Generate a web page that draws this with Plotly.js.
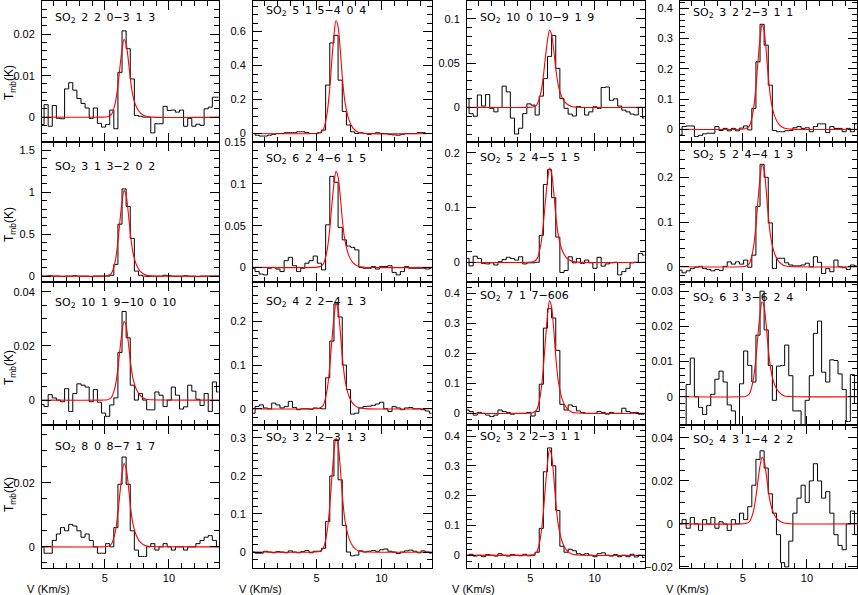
<!DOCTYPE html>
<html><head><meta charset="utf-8">
<script src="https://cdn.plot.ly/plotly-3.0.1.min.js"></script>
<style>html,body{margin:0;padding:0;background:#fff}#chart{width:858px;height:595px}</style>
</head><body><div id="chart"></div><script>
// channel velocities (km/s)
const velocity = [0.10, 0.42, 0.74, 1.06, 1.38, 1.70, 2.02, 2.34, 2.66, 2.98, 3.30, 3.62, 3.94, 4.26, 4.58, 4.90, 5.22, 5.54, 5.86, 6.18, 6.50, 6.82, 7.14, 7.46, 7.78, 8.10, 8.42, 8.74, 9.06, 9.38, 9.70, 10.02, 10.34, 10.66, 10.98, 11.30, 11.62, 11.94, 12.26, 12.58, 12.90, 13.22, 13.54, 13.86];

const lineLabels = [
  "SO<sub>2</sub> 2 2 0−3 1 3", "SO<sub>2</sub> 5 1 5−4 0 4", "SO<sub>2</sub> 10 0 10−9 1 9", "SO<sub>2</sub> 3 2 2−3 1 1",
  "SO<sub>2</sub> 3 1 3−2 0 2", "SO<sub>2</sub> 6 2 4−6 1 5", "SO<sub>2</sub> 5 2 4−5 1 5", "SO<sub>2</sub> 5 2 4−4 1 3",
  "SO<sub>2</sub> 10 1 9−10 0 10", "SO<sub>2</sub> 4 2 2−4 1 3", "SO<sub>2</sub> 7 1 7−606", "SO<sub>2</sub> 6 3 3−6 2 4",
  "SO<sub>2</sub> 8 0 8−7 1 7", "SO<sub>2</sub> 3 2 2−3 1 3", "SO<sub>2</sub> 3 2 2−3 1 1", "SO<sub>2</sub> 4 3 1−4 2 2"
];

// observed spectra, Tmb (K)
const spec1 = [-0.0018, 0.0030, -0.0022, 0.0028, -0.0003, -0.0004, 0.0068, 0.0083, 0.0065, 0.0045, 0.0033, 0.0022, -0.0003, 0.0022, -0.0015, -0.0024, -0.0018, 0.0017, -0.0028, 0.0108, 0.0208, 0.0165, 0.0092, 0.0004, 0.0002, 0.0000, 0.0000, -0.0038, -0.0016, -0.0016, 0.0026, 0.0016, 0.0017, 0.0012, 0.0017, -0.0022, -0.0003, -0.0022, -0.0017, -0.0020, 0.0020, 0.0024, 0.0048, 0.0048];
const spec2 = [0, -0.010, -0.015, -0.015, -0.010, -0.005, 0, 0, 0.005, 0.005, 0.005, 0.010, 0.010, 0.005, 0, 0, 0.004, 0.020, 0.285, 0.533, 0.578, 0.314, 0.130, 0.050, 0.010, 0, 0.005, 0, -0.005, 0, 0.005, 0, 0, -0.005, -0.008, -0.010, -0.005, 0, 0, 0, 0.005, 0.005, 0, 0];
const spec3 = [0.010, -0.007, -0.010, 0.014, 0.0015, 0.0145, -0.001, -0.005, 0.000, 0.024, 0.0175, -0.012, -0.030, -0.0235, -0.007, 0.004, 0.0026, -0.0086, 0.0127, 0.0325, 0.0575, 0.081, 0.044, 0.010, -0.001, -0.0075, -0.0097, 0.001, 0.000, -0.0086, -0.005, 0.0007, -0.001, 0.0224, 0.023, 0.008, 0.0097, 0.0015, -0.003, -0.005, -0.0075, -0.0085, 0.000, -0.012];
const spec4 = [-0.019, 0.009, 0.011, 0.011, -0.024, -0.020, -0.015, -0.013, -0.013, 0.009, -0.004, 0.003, -0.005, 0.003, -0.005, 0.004, 0.011, -0.002, 0.069, 0.223, 0.347, 0.278, 0.146, -0.004, -0.008, -0.008, -0.005, -0.004, 0.005, 0.009, 0.003, 0.005, -0.008, 0.009, 0.018, 0.018, -0.011, 0.009, 0.003, 0.003, -0.008, 0.003, -0.008, 0.018];
const spec5 = [0, 0, 0.005, 0, 0, -0.005, 0, 0, 0.005, 0, 0, 0, -0.005, 0, 0, 0, 0, 0.01, 0.14, 0.62, 1.04, 0.83, 0.45, 0.06, 0.01, 0, -0.005, 0, 0, 0, 0.01, 0.005, 0, 0, 0, 0.005, 0, 0, -0.005, 0, 0, 0, 0, 0];
const spec6 = [-0.001, -0.005, -0.008, -0.009, -0.001, 0, -0.002, -0.005, 0.008, 0.012, 0.002, -0.005, -0.001, 0.005, 0.008, 0.0136, 0.005, -0.003, 0.051, 0.109, 0.102, 0.048, 0.033, 0.0256, 0.024, 0.021, 0.0, -0.001, -0.001, 0.001, -0.002, 0.001, 0.001, 0.002, -0.006, -0.009, -0.005, 0.001, -0.001, -0.001, -0.001, -0.001, -0.002, -0.001];
const spec7 = [0.007, -0.0066, 0.011, 0.007, -0.002, -0.003, -0.001, -0.005, 0.001, 0.005, 0.009, 0.007, 0.004, 0.010, -0.003, -0.001, -0.001, 0.000, 0.049, 0.142, 0.169, 0.118, 0.046, -0.0186, -0.015, 0.010, -0.001, 0.007, -0.002, 0.004, -0.001, -0.011, 0.009, -0.007, -0.003, -0.001, 0.000, -0.023, -0.017, -0.011, -0.001, 0.000, 0.016, 0.013];
const spec8 = [-0.0075, -0.0135, -0.009, -0.004, -0.001, 0.001, -0.004, -0.006, -0.009, -0.006, -0.008, 0.001, 0.011, 0.006, 0.011, 0.006, 0.015, -0.001, 0.026, 0.135, 0.229, 0.200, 0.098, -0.004, 0.019, 0.019, 0.009, 0.004, 0.002, 0.002, 0.004, 0.008, 0.000, 0.0225, 0.010, -0.015, -0.004, -0.011, 0.015, 0.000, -0.002, -0.006, 0.004, 0.002];
const spec9 = [-0.0016, -0.0024, 0.002, 0.0008, 0.0, -0.0006, 0.0042, -0.0042, 0.0024, 0.006, 0.0055, 0.0048, -0.0006, 0.0039, -0.0008, -0.0048, -0.006, -0.0018, 0.0008, 0.0176, 0.0327, 0.023, 0.0055, 0.0, 0.0024, 0.0, -0.0036, -0.0036, 0.003, 0.0018, -0.0024, 0.0, 0.0048, 0.0018, -0.0033, -0.0025, 0.0055, 0.0033, 0.0003, -0.002, 0.0024, -0.0042, 0.0067, 0.003];
const spec10 = [-0.010, 0.0054, 0.009, 0.002, 0.000, 0.013, 0.009, 0.002, 0.005, 0.017, 0.003, -0.002, 0.000, 0.000, -0.001, 0.002, 0.001, 0.000, 0.071, 0.155, 0.240, 0.210, 0.100, 0.044, -0.012, -0.010, 0.002, 0.0054, 0.006, 0.008, 0.011, 0.015, 0.000, -0.006, 0.005, 0.002, -0.002, 0.002, 0.003, 0.000, 0.000, -0.002, -0.005, -0.010];
const spec11 = [0.011, 0.006, -0.006, 0.003, 0.000, -0.006, -0.011, -0.006, 0.011, 0.006, 0.003, -0.003, 0.000, 0.000, 0.000, 0.003, -0.009, 0.006, 0.097, 0.284, 0.349, 0.318, 0.210, 0.030, 0.011, 0.028, 0.023, 0.008, 0.003, 0.000, 0.000, 0.000, 0.006, 0.003, -0.003, 0.003, 0.000, 0.000, 0.017, 0.006, 0.002, 0.003, -0.003, -0.003];
const spec12 = [-0.011, -0.010, 0.0035, 0.011, 0.000, -0.003, -0.005, -0.0025, 0.0007, 0.005, 0.0073, 0.0042, -0.0023, -0.004, -0.011, 0.0037, 0.013, 0.0089, 0.0042, 0.0175, 0.030, 0.019, 0.0089, -0.001, 0.0087, 0.0089, 0.0147, 0.006, -0.004, -0.004, -0.010, -0.001, 0.006, 0.018, 0.0215, 0.007, 0.0042, 0.0105, 0.0103, 0.0065, 0.0021, -0.007, 0.0063, -0.0019];
const spec13 = [0.000, -0.002, -0.002, 0.002, 0.004, 0.006, 0.005, 0.007, 0.0065, 0.005, 0.003, 0.004, 0.002, 0.000, -0.002, -0.002, 0.001, 0.000, 0.006, 0.0195, 0.028, 0.0195, 0.005, -0.001, -0.003, -0.003, 0.000, 0.001, -0.001, 0.000, 0.001, 0.000, -0.001, 0.000, 0.000, -0.001, 0.000, 0.000, 0.001, 0.002, 0.003, 0.0035, 0.002, 0.000];
const spec14 = [0.000, -0.003, -0.003, 0.002, 0.000, -0.002, 0.001, 0.000, -0.002, 0.003, 0.000, -0.002, 0.001, 0.004, -0.002, 0.002, 0.002, 0.010, 0.080, 0.200, 0.295, 0.190, 0.070, 0.000, -0.010, -0.008, 0.003, 0.000, 0.002, 0.004, 0.002, 0.006, 0.008, 0.002, 0.000, -0.004, 0.000, 0.003, 0.005, 0.002, -0.002, 0.003, 0.000, -0.003];
const spec15 = [0.000, 0.003, -0.003, 0.000, -0.005, 0.002, 0.000, -0.003, 0.005, 0.000, -0.003, 0.002, 0.000, -0.002, 0.003, -0.002, 0.000, 0.010, 0.090, 0.280, 0.360, 0.300, 0.150, 0.030, 0.010, 0.020, 0.015, 0.005, 0.002, 0.005, 0.000, -0.005, 0.005, 0.008, 0.000, -0.003, 0.002, -0.005, 0.000, -0.005, 0.003, -0.006, 0.000, -0.008];
const spec16 = [0.000, 0.002, -0.002, 0.003, 0.000, -0.003, 0.002, 0.000, 0.003, -0.002, 0.001, 0.000, -0.003, 0.002, 0.000, 0.005, 0.002, 0.008, 0.018, 0.030, 0.034, 0.026, 0.014, 0.005, -0.005, -0.018, -0.020, -0.008, 0.005, 0.012, 0.018, 0.010, 0.020, 0.028, 0.020, 0.012, 0.015, 0.005, -0.005, -0.010, -0.012, 0.000, 0.006, -0.005];

// fitted profiles (red), read at these velocities
const fitVelocity = [0.1, 4.8, 5.2, 5.5, 5.8, 6.0, 6.2, 6.35, 6.5, 6.65, 6.8, 7.0, 7.2, 7.5, 7.8, 8.2, 8.7, 13.9];
const fit1 = [0,0,0.0001,0.0006,0.0032,0.0071,0.0127,0.0165,0.0187,0.0178,0.0146,0.009,0.005,0.0022,0.0009,0.0002,0,0];
const fit2 = [0,0,0.003,0.02,0.113,0.253,0.452,0.585,0.665,0.632,0.519,0.319,0.18,0.08,0.033,0.008,0.001,0];
const fit3 = [0,0,0.0004,0.0026,0.0148,0.0331,0.0592,0.0766,0.087,0.0827,0.0679,0.0418,0.0235,0.0104,0.0044,0.001,0.0002,0];
const fit4 = [0,0,0.0017,0.0104,0.0587,0.131,0.235,0.304,0.345,0.328,0.269,0.166,0.093,0.041,0.017,0.004,0.0007,0];
const fit5 = [0,0,0.005,0.031,0.173,0.388,0.694,0.898,1.02,0.969,0.796,0.49,0.275,0.122,0.051,0.012,0.002,0];
const fit6 = [0,0,0.0006,0.0035,0.0196,0.0437,0.0782,0.1012,0.115,0.1093,0.0897,0.0552,0.0311,0.0138,0.0058,0.0014,0.0002,0];
const fit7 = [0,0,0.0009,0.0052,0.0292,0.0654,0.117,0.151,0.172,0.163,0.134,0.0826,0.0464,0.0206,0.0086,0.0021,0.0003,0];
const fit8 = [0,0,0.0011,0.0068,0.0388,0.0866,0.155,0.201,0.228,0.217,0.178,0.109,0.0616,0.0274,0.0114,0.0027,0.0005,0];
const fit9 = [0,0,0.0001,0.0009,0.0049,0.011,0.0197,0.0255,0.029,0.0276,0.0226,0.0139,0.0078,0.0035,0.0015,0.0003,0.0001,0];
const fit10 = [0,0,0.0012,0.0072,0.0408,0.0912,0.163,0.211,0.24,0.228,0.187,0.115,0.0648,0.0288,0.012,0.0029,0.0005,0];
const fit11 = [0,0,0.0019,0.0113,0.0638,0.1425,0.255,0.33,0.375,0.356,0.293,0.18,0.101,0.045,0.019,0.0045,0.0008,0];
const fit12 = [0,0,0.0001,0.0008,0.0046,0.0103,0.0184,0.0238,0.027,0.0257,0.0211,0.013,0.0073,0.0032,0.0014,0.0003,0.0001,0];
const fit13 = [0,0,0.0001,0.0008,0.0044,0.0099,0.0177,0.0229,0.026,0.0247,0.0203,0.0125,0.007,0.0031,0.0013,0.0003,0.0001,0];
const fit14 = [0,0,0.0015,0.009,0.051,0.114,0.204,0.264,0.30,0.285,0.234,0.144,0.081,0.036,0.015,0.0036,0.0006,0];
const fit15 = [0,0,0.0018,0.0107,0.0604,0.135,0.241,0.312,0.355,0.337,0.277,0.17,0.0959,0.0426,0.0178,0.0043,0.0007,0];
const fit16 = [0,0,0.0002,0.0009,0.0053,0.0118,0.0211,0.0273,0.031,0.0295,0.0242,0.0149,0.0084,0.0037,0.0016,0.0004,0.0001,0];

const spectra = [spec1,spec2,spec3,spec4,spec5,spec6,spec7,spec8,spec9,spec10,spec11,spec12,spec13,spec14,spec15,spec16];
const fits = [fit1,fit2,fit3,fit4,fit5,fit6,fit7,fit8,fit9,fit10,fit11,fit12,fit13,fit14,fit15,fit16];

const yRanges = [[-0.006,0.028],[-0.05,0.78],[-0.039,0.12],[-0.042,0.424],
                 [-0.07,1.6],[-0.0175,0.1502],[-0.036,0.2195],[-0.034,0.279],
                 [-0.0092,0.0436],[-0.037,0.29],[-0.039,0.438],[-0.008,0.0326],
                 [-0.0066,0.038],[-0.042,0.334],[-0.043,0.437],[-0.0205,0.046]];
const yMajor = [0.01,0.2,0.05,0.1, 0.5,0.05,0.1,0.1, 0.02,0.1,0.1,0.01, 0.02,0.1,0.1,0.02];
const yMinor = [0.002,0.05,0.01,0.02, 0.1,0.01,0.02,0.02, 0.005,0.02,0.02,0.002, 0.005,0.02,0.02,0.005];
const labelDy = [17,10,17,12, 25,17,16,13, 21,20,14,16, 22,13,12,15];
const xRange = [0.1, 13.9];

const W = 858, H = 595;
const colX = [[42,219],[253,432],[467,645],[680,857]];
const rowY = [[1,142],[142,282],[282,425],[425,568]];
const FONT = "Liberation Sans, Arial, sans-serif";
const LFONT = "DejaVu Sans, sans-serif";

const data = [];
const layout = {
  width: W, height: H, margin: {l:0,r:0,t:0,b:0},
  paper_bgcolor: "#fff", plot_bgcolor: "#fff", showlegend: false,
  font: {family: FONT, size: 11, color: "#000"},
  annotations: []
};

for (let i = 0; i < 16; i++) {
  const r = Math.floor(i/4), c = i % 4;
  const n = i + 1;
  const xa = "x" + (n === 1 ? "" : n), ya = "y" + (n === 1 ? "" : n);
  const xk = "xaxis" + (n === 1 ? "" : n), yk = "yaxis" + (n === 1 ? "" : n);
  data.push({x: velocity, y: spectra[i], xaxis: xa, yaxis: ya, type: "scatter", mode: "lines",
    line: {shape: "hvh", color: "#000", width: 1}, hoverinfo: "skip"});
  data.push({x: fitVelocity, y: fits[i], xaxis: xa, yaxis: ya, type: "scatter", mode: "lines",
    line: {shape: "spline", smoothing: 0.9, color: "#ff0000", width: 1.1}, hoverinfo: "skip"});
  layout[xk] = {
    domain: [colX[c][0]/W, colX[c][1]/W], anchor: ya, range: xRange,
    showline: true, linecolor: "#000", linewidth: 1, mirror: "allticks",
    ticks: "inside", ticklen: 9, tickwidth: 1, tickcolor: "#000",
    dtick: 5, tick0: 0, showgrid: false, zeroline: false,
    minor: {dtick: 1, tick0: 0, ticks: "inside", ticklen: 5, tickcolor: "#000", showgrid: false},
    showticklabels: r === 3, tickfont: {family: FONT, size: 11, color: "#000"}
  };
  layout[yk] = {
    domain: [1 - rowY[r][1]/H, 1 - rowY[r][0]/H], anchor: xa, range: yRanges[i],
    showline: true, linecolor: "#000", linewidth: 1, mirror: "allticks",
    ticks: "inside", ticklen: 9, tickwidth: 1, tickcolor: "#000",
    dtick: yMajor[i], tick0: 0, showgrid: false, zeroline: false,
    minor: {dtick: yMinor[i], tick0: 0, ticks: "inside", ticklen: 5, tickcolor: "#000", showgrid: false},
    tickfont: {family: FONT, size: 11, color: "#000"}, ticklabelstandoff: 4
  };
  layout.annotations.push({
    xref: "paper", yref: "paper", x: (colX[c][0] + 11)/W, y: 1 - (rowY[r][0] + labelDy[i])/H,
    xanchor: "left", yanchor: "middle", showarrow: false,
    text: lineLabels[i].split(" ").join(" \u2009"),
    font: {family: LFONT, size: 11, color: "#000"}
  });
}

const yTitleY = [83, 225, 368, 495];
yTitleY.forEach(y => layout.annotations.push({
  xref: "paper", yref: "paper", x: 10/W, y: 1 - y/H, xanchor: "center", yanchor: "middle",
  textangle: -90, showarrow: false, text: "T<sub>mb</sub>(K)", font: {family: FONT, size: 12, color: "#000"}
}));
const xTitleX = [48, 260, 473, 687];
xTitleX.forEach(x => layout.annotations.push({
  xref: "paper", yref: "paper", x: x/W, y: 1 - 589/H, xanchor: "center", yanchor: "middle",
  showarrow: false, text: "V (Km/s)", font: {family: FONT, size: 11, color: "#000"}
}));

Plotly.newPlot("chart", data, layout, {staticPlot: true, displayModeBar: false});
</script></body></html>
